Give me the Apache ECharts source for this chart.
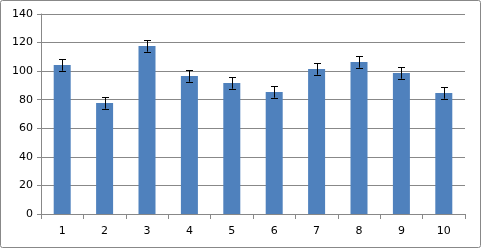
<!DOCTYPE html>
<html><head><meta charset="utf-8">
<script src="https://cdn.jsdelivr.net/npm/echarts@6/dist/echarts.min.js"></script>
<style>html,body{margin:0;padding:0;background:#fff}#c{width:481px;height:248px}</style>
</head><body><div id="c"></div>
<script>
var categories = ['1','2','3','4','5','6','7','8','9','10'];
var values = [104.3, 77.7, 117.6, 96.6, 91.7, 85.4, 101.5, 106.4, 98.7, 84.7];
var errors = [4, 4, 4, 4, 4, 4, 4, 4, 4, 4];
var yTicks = [0, 20, 40, 60, 80, 100, 120, 140];

var chart = echarts.init(document.getElementById('c'));
var errData = values.map(function (v, i) { return [i, v - errors[i], v + errors[i]]; });
chart.setOption({
  animation: false,
  backgroundColor: '#fff',
  graphic: [{ type: 'rect', left: 0, top: 0, z: -1, shape: { x: 0.5, y: 0.5, width: 480, height: 247, r: 2 }, style: { fill: '#fff', stroke: '#888', lineWidth: 1 } }],
  grid: { left: 41, right: 16, top: 14, bottom: 34 },
  xAxis: {
    type: 'category', data: categories,
    axisLine: { lineStyle: { color: '#888' } },
    axisTick: { show: true, length: 5, lineStyle: { color: '#888' } },
    axisLabel: { color: '#000', fontFamily: 'DejaVu Sans', fontSize: 11, margin: 12 }
  },
  yAxis: {
    type: 'value', min: yTicks[0], max: yTicks[yTicks.length - 1], interval: 20,
    axisLine: { show: true, lineStyle: { color: '#888' } },
    axisTick: { show: true, length: 4, lineStyle: { color: '#888' } },
    splitLine: { lineStyle: { color: '#888' } },
    axisLabel: { color: '#000', fontFamily: 'DejaVu Sans', fontSize: 11, margin: 8 }
  },
  series: [
    { type: 'bar', data: values, barWidth: 17, itemStyle: { color: '#4F81BD' } },
    {
      type: 'custom', data: errData, z: 10,
      renderItem: function (params, api) {
        var x = api.value(0);
        var lo = api.coord([x, api.value(1)]);
        var hi = api.coord([x, api.value(2)]);
        var w = 3.5;
        var st = { stroke: '#000', lineWidth: 1 };
        var cx = Math.round(lo[0]) + 0.5;
        return { type: 'group', children: [
          { type: 'line', shape: { x1: cx, y1: hi[1], x2: cx, y2: lo[1] }, style: st },
          { type: 'line', shape: { x1: cx - w, y1: Math.round(hi[1]) + 0.5, x2: cx + w, y2: Math.round(hi[1]) + 0.5 }, style: st },
          { type: 'line', shape: { x1: cx - w, y1: Math.round(lo[1]) + 0.5, x2: cx + w, y2: Math.round(lo[1]) + 0.5 }, style: st }
        ] };
      }
    }
  ]
});
</script></body></html>
